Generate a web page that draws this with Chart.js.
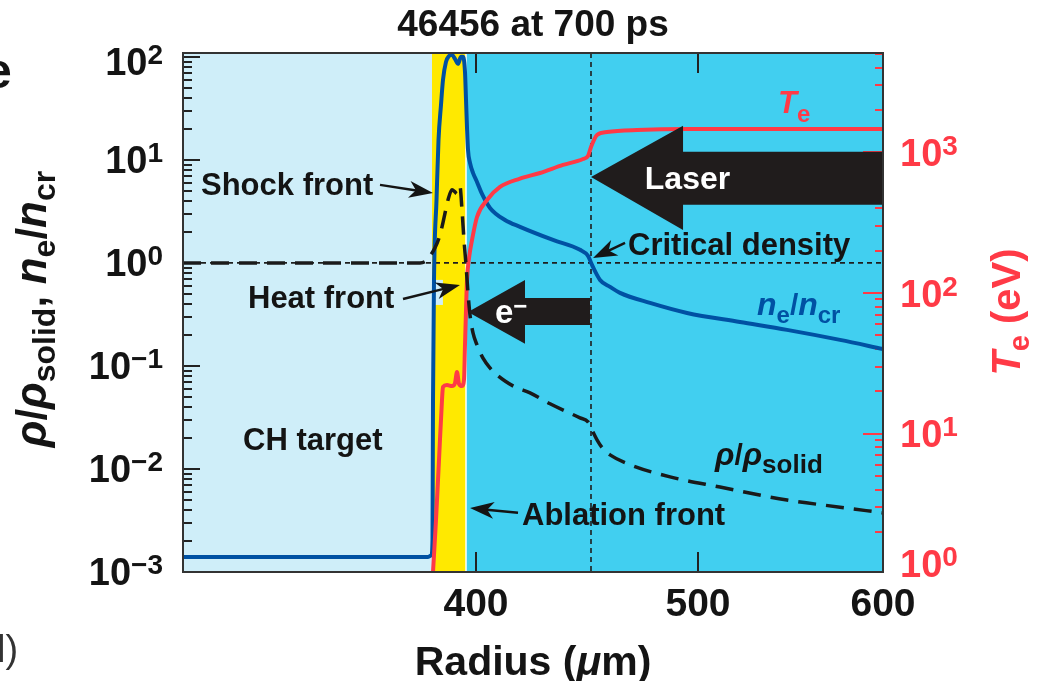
<!DOCTYPE html>
<html><head><meta charset="utf-8">
<script src="https://cdn.jsdelivr.net/npm/chart.js@4.4.1/dist/chart.umd.min.js"></script>
<style>html,body{margin:0;padding:0;background:#fff;overflow:hidden}#wrap{width:1040px;height:681px;position:relative}</style>
</head><body><div id="wrap"><canvas id="c" width="1040" height="681"></canvas></div>
<script>
// ---------------- data ----------------
const neRadius = [268, 378.38, 379.95, 380.40, 380.63, 381.08, 382.21, 383.11, 384.23, 385.13, 386.48, 387.84, 389.19, 390.54, 391.89, 393.24, 394.14, 395.04, 395.50, 395.95, 396.40, 397.30, 398.65, 400.45, 402.70, 406.31, 413.06, 419.82, 434.69, 446.85, 450.46, 452.26, 455.86, 460.37, 464.87, 478.39, 495.06, 522.70, 548.11, 576.76, 600];
const neValues = [0.0014, 0.0014, 0.00146, 0.00205, 0.0468, 0.684, 4.09, 15.6, 34.2, 59.8, 89.4, 102, 104.6, 95.6, 85.5, 100, 100, 71.5, 38.3, 20.5, 12.5, 9.35, 7.48, 6.11, 4.67, 3.42, 2.61, 2.24, 1.67, 1.34, 1.17, 0.956, 0.684, 0.585, 0.512, 0.409, 0.327, 0.267, 0.224, 0.179, 0.146];

const teRadius = [380.63, 381.98, 383.33, 384.68, 385.13, 386.93, 389.19, 390.54, 391.44, 392.34, 393.69, 394.59, 395.04, 395.50, 395.95, 396.85, 398.20, 400.45, 404.96, 410.81, 419.82, 428.83, 439.19, 448.20, 450.46, 451.81, 454.51, 459.02, 472.53, 495.06, 600];
const teValues = [1.04, 2.44, 6.5, 17.4, 21.5, 22.2, 21.8, 22.9, 27.4, 22.6, 21.8, 24.1, 42.7, 75.7, 124, 177, 238, 347, 458, 567, 650, 713, 813, 896, 942, 1091, 1328, 1393, 1440, 1465, 1465];

const rhoRadius = [268, 374.77, 377.47, 379.28, 381.53, 383.78, 385.58, 387.39, 389.19, 390.54, 391.44, 392.34, 392.79, 393.69, 394.59, 395.50, 396.40, 397.30, 398.65, 400.45, 403.15, 406.31, 409.46, 413.06, 417.57, 424.33, 433.34, 446.85, 450.46, 452.26, 454.51, 457.21, 460.37, 469.38, 487.40, 511.89, 548.11, 576.76, 600];
const rhoValues = [1.0, 1.0, 1.046, 1.17, 1.40, 1.87, 2.73, 4.09, 5.12, 4.89, 4.68, 5.34, 5.47, 3.27, 1.67, 0.956, 0.512, 0.313, 0.209, 0.160, 0.119, 0.0956, 0.0818, 0.0715, 0.0625, 0.0547, 0.0429, 0.0313, 0.0286, 0.0239, 0.0192, 0.0157, 0.0137, 0.0110, 0.00838, 0.00667, 0.00499, 0.00426, 0.00375];

const xTickValues = [400, 500, 600];
const xTickLabels = ['400', '500', '600'];
const leftTickValues = [1e-3, 1e-2, 1e-1, 1, 10, 100];
const leftTickExponents = ['\u22123', '\u22122', '\u22121', '0', '1', '2'];
const rightTickValues = [1, 10, 100, 1000];
const rightTickExponents = ['0', '1', '2', '3'];

const targetEdge = 380.18;     // CH target / shocked region boundary
const ablationFront = 395.5;   // ablation front
const criticalRadius = 451.8;  // critical density radius
const criticalDensity = 1;

// ---------------- styles ----------------
const FAM = '"Liberation Sans", Arial, Helvetica, sans-serif';
const f = (size, style) => `${style || 'normal'} bold ${size}px ${FAM}`;
const BLUE = '#0051a3', RED = '#ff3a46', INK = '#141414';
const LIGHT = '#cfeef9', YELLOW = '#ffe900', CYAN = '#41cff0', ARROW = '#201c1c';

// piecewise-linear radius axis (the reference's 500–600 span is compressed)
const xBreaks = [268, 400, 500, 600];
const xBreakFractions = [0, 293 / 700, 515 / 700, 1];
function toFrac(v) {
  let i = 0; while (i < xBreaks.length - 2 && v > xBreaks[i + 1]) i++;
  return xBreakFractions[i] + (v - xBreaks[i]) * (xBreakFractions[i + 1] - xBreakFractions[i]) / (xBreaks[i + 1] - xBreaks[i]);
}
function fromFrac(d) {
  let i = 0; while (i < xBreakFractions.length - 2 && d > xBreakFractions[i + 1]) i++;
  return xBreaks[i] + (d - xBreakFractions[i]) * (xBreaks[i + 1] - xBreaks[i]) / (xBreakFractions[i + 1] - xBreakFractions[i]);
}
class PiecewiseScale extends Chart.LinearScale {
  getPixelForValue(value) { return value === null ? NaN : this.getPixelForDecimal(toFrac(value)); }
  getValueForPixel(pixel) { return fromFrac(this.getDecimalForPixel(pixel)); }
}
PiecewiseScale.id = 'piecewise';
Chart.register(PiecewiseScale);

// ---------------- helpers ----------------
function drawRich(ctx, x, y, segs, align, color) {
  let w = 0;
  for (const s of segs) { ctx.font = s.f; w += ctx.measureText(s.t).width; }
  let cx = align === 'center' ? x - w / 2 : align === 'right' ? x - w : x;
  ctx.textAlign = 'left'; ctx.textBaseline = 'alphabetic';
  for (const s of segs) {
    ctx.font = s.f; ctx.fillStyle = s.c || color;
    ctx.fillText(s.t, cx, y + (s.dy || 0));
    cx += ctx.measureText(s.t).width;
  }
}
function thinArrow(ctx, x1, y1, x2, y2) {
  const ang = Math.atan2(y2 - y1, x2 - x1), L = 24, W = 8.5;
  const c = Math.cos(ang), s = Math.sin(ang);
  const bx = x2 - L * c, by = y2 - L * s;
  ctx.strokeStyle = INK; ctx.fillStyle = INK; ctx.lineWidth = 2.5; ctx.setLineDash([]);
  ctx.beginPath(); ctx.moveTo(x1, y1); ctx.lineTo(x2 - 0.7 * L * c, y2 - 0.7 * L * s); ctx.stroke();
  ctx.beginPath(); ctx.moveTo(x2, y2);
  ctx.lineTo(bx - W * s, by + W * c);
  ctx.lineTo(x2 - 0.72 * L * c, y2 - 0.72 * L * s);
  ctx.lineTo(bx + W * s, by - W * c);
  ctx.closePath(); ctx.fill();
}
function bigArrow(ctx, tx, ty, bx, hTop, hBot, tTop, tBot, ex) {
  ctx.fillStyle = ARROW; ctx.beginPath();
  ctx.moveTo(tx, ty); ctx.lineTo(bx, hTop); ctx.lineTo(bx, tTop); ctx.lineTo(ex, tTop);
  ctx.lineTo(ex, tBot); ctx.lineTo(bx, tBot); ctx.lineTo(bx, hBot); ctx.closePath(); ctx.fill();
}
function logTicks(min, max) {
  const out = [];
  for (let d = -4; d <= 4; d++) for (let m = 1; m <= 9; m++) {
    const v = m * Math.pow(10, d);
    if (v >= min * 0.999 && v <= max * 1.001) out.push({ v, major: m === 1 });
  }
  return out;
}

const figure = {
  id: 'figure',
  beforeDatasetsDraw(chart) {
    const ctx = chart.ctx, a = chart.chartArea;
    const xs = chart.scales.x, yl = chart.scales.y, yr = chart.scales.y2;
    const X = v => xs.getPixelForValue(v), YL = v => yl.getPixelForValue(v), YR = v => yr.getPixelForValue(v);
    const h = a.bottom - a.top;
    ctx.save();
    ctx.fillStyle = LIGHT; ctx.fillRect(a.left, a.top, X(targetEdge) - a.left, h);
    ctx.fillStyle = YELLOW; ctx.fillRect(X(targetEdge), a.top, X(ablationFront) - X(targetEdge), h);
    ctx.fillStyle = CYAN; ctx.fillRect(X(ablationFront), a.top, a.right - X(ablationFront), h);
    ctx.fillStyle = '#ffffff'; ctx.fillRect(X(ablationFront) - 0.75, a.top, 1.5, h);
    // light label box behind "Heat front"
    ctx.fillStyle = LIGHT; ctx.fillRect(X(targetEdge), YL(0.684), X(385.1) - X(targetEdge), YL(0.391) - YL(0.684));
    // dotted reference lines
    ctx.strokeStyle = '#1e1e1e'; ctx.lineWidth = 1.6; ctx.setLineDash([5, 4]);
    ctx.beginPath(); ctx.moveTo(a.left, YL(criticalDensity)); ctx.lineTo(a.right, YL(criticalDensity)); ctx.stroke();
    ctx.beginPath(); ctx.moveTo(X(criticalRadius), a.top); ctx.lineTo(X(criticalRadius), a.bottom); ctx.stroke();
    ctx.setLineDash([]);
    // left (black) ticks
    ctx.lineWidth = 2; ctx.strokeStyle = '#222';
    for (const t of logTicks(yl.min, yl.max)) {
      const y = Math.round(YL(t.v)); const L = t.major ? 17 : 9;
      ctx.beginPath(); ctx.moveTo(a.left, y); ctx.lineTo(a.left + L, y); ctx.stroke();
    }
    // right (red) ticks
    ctx.strokeStyle = RED;
    for (const t of logTicks(yr.min, yr.max)) {
      const y = Math.round(YR(t.v)); const L = t.major ? 20 : 8;
      ctx.beginPath(); ctx.moveTo(a.right, y); ctx.lineTo(a.right - L, y); ctx.stroke();
    }
    // top/bottom ticks
    ctx.strokeStyle = '#222';
    for (const v of xTickValues) {
      const x = Math.round(X(v)); if (x >= a.right - 2) continue;
      ctx.beginPath(); ctx.moveTo(x, a.bottom); ctx.lineTo(x, a.bottom - 20); ctx.stroke();
      ctx.beginPath(); ctx.moveTo(x, a.top); ctx.lineTo(x, a.top + 20); ctx.stroke();
    }
    ctx.restore();
  },
  afterDatasetsDraw(chart) {
    const ctx = chart.ctx, a = chart.chartArea;
    const xs = chart.scales.x, yl = chart.scales.y, yr = chart.scales.y2;
    const X = v => xs.getPixelForValue(v), YL = v => yl.getPixelForValue(v), YR = v => yr.getPixelForValue(v);
    ctx.save();
    ctx.beginPath(); ctx.rect(a.left, a.top, a.right - a.left, a.bottom - a.top); ctx.clip();
    // big arrows
    bigArrow(ctx, X(451.81), YL(6.84), X(493.26), YL(21.4), YL(2.09), YL(11.97), YL(3.66), a.right + 2);
    bigArrow(ctx, X(396.4), YL(0.334), X(422.07), YL(0.684), YL(0.164), YL(0.457), YL(0.25), X(451.36));
    // thin annotation arrows
    thinArrow(ctx, X(356.75), YL(5.72), X(380.63), YL(4.78));
    thinArrow(ctx, X(367.11), YL(0.447), X(392.79), YL(0.612));
    thinArrow(ctx, X(467.13), YL(1.564), X(452.71), YL(1.118));
    thinArrow(ctx, X(418.92), YL(0.00375), X(397.30), YL(0.00418));
    // annotation text
    const A = f(31);
    drawRich(ctx, X(276.11), YL(4.57), [{ t: 'Shock front', f: A }], 'left', INK);
    drawRich(ctx, X(297.28), YL(0.366), [{ t: 'Heat front', f: A }], 'left', INK);
    drawRich(ctx, X(468.48), YL(1.196), [{ t: 'Critical density', f: A }], 'left', INK);
    drawRich(ctx, X(295.03), YL(0.01528), [{ t: 'CH target', f: A }], 'left', INK);
    drawRich(ctx, X(420.72), YL(0.00286), [{ t: 'Ablation front', f: A }], 'left', INK);
    drawRich(ctx, X(495.28), YL(5.23), [{ t: 'Laser', f: f(32) }], 'center', '#ffffff');
    drawRich(ctx, X(408.56), YL(0.2615), [{ t: 'e', f: f(33) }, { t: '\u2212', f: f(24), dy: -9 }], 'left', '#ffffff');
    drawRich(ctx, X(543.24), YR(1900), [{ t: 'T', f: f(31, 'italic') }, { t: 'e', f: f(24), dy: 9 }], 'left', RED);
    drawRich(ctx, X(531.89), YL(0.313), [{ t: 'n', f: f(32, 'italic') }, { t: 'e', f: f(24), dy: 8 }, { t: '/', f: f(30) }, { t: 'n', f: f(32, 'italic') }, { t: 'cr', f: f(24), dy: 8 }], 'left', BLUE);
    drawRich(ctx, X(509.19), YL(0.01094), [{ t: '\u03c1', f: f(32, 'italic') }, { t: '/', f: f(30) }, { t: '\u03c1', f: f(32, 'italic') }, { t: 'solid', f: f(26), dy: 8 }], 'left', INK);
    ctx.restore();

    ctx.save();
    // frame
    ctx.strokeStyle = '#333'; ctx.lineWidth = 2; ctx.setLineDash([]);
    ctx.strokeRect(a.left, a.top, a.right - a.left, a.bottom - a.top);
    // left tick labels
    leftTickValues.forEach((v, i) => {
      let yc = YL(v); yc = Math.min(Math.max(yc, a.top + 8), a.bottom - 1);
      drawRich(ctx, a.left - 20, yc + 13.5, [{ t: '10', f: f(38) }, { t: leftTickExponents[i], f: f(28), dy: -11 }], 'right', INK);
    });
    // right tick labels
    rightTickValues.forEach((v, i) => {
      let yc = YR(v); yc = Math.min(yc, a.bottom - 9);
      drawRich(ctx, a.right + 17, yc + 13.5, [{ t: '10', f: f(38) }, { t: rightTickExponents[i], f: f(28), dy: -11 }], 'left', RED);
    });
    // x tick labels
    xTickValues.forEach((v, i) => {
      drawRich(ctx, X(v), a.bottom + 44, [{ t: xTickLabels[i], f: f(39) }], 'center', INK);
    });
    // title
    drawRich(ctx, (a.left + a.right) / 2, 36, [{ t: '46456 at 700 ps', f: f(37) }], 'center', INK);
    // x axis title
    drawRich(ctx, (a.left + a.right) / 2, 675, [{ t: 'Radius (', f: f(41) }, { t: '\u03bc', f: f(41, 'italic') }, { t: 'm)', f: f(41) }], 'center', INK);
    // left axis title
    ctx.save(); ctx.translate(46, 309); ctx.rotate(-Math.PI / 2);
    drawRich(ctx, 0, 0, [
      { t: '\u03c1', f: f(44, 'italic') }, { t: '/', f: f(42) }, { t: '\u03c1', f: f(44, 'italic') },
      { t: 'solid', f: f(32), dy: 9 }, { t: ', ', f: f(42) },
      { t: 'n', f: f(44, 'italic') }, { t: 'e', f: f(32), dy: 9 }, { t: '/', f: f(42) },
      { t: 'n', f: f(44, 'italic') }, { t: 'cr', f: f(32), dy: 9 }], 'center', INK);
    ctx.restore();
    // right axis title
    ctx.save(); ctx.translate(1020, 312); ctx.rotate(-Math.PI / 2);
    drawRich(ctx, 0, 0, [{ t: 'T', f: f(40, 'italic') }, { t: 'e', f: f(29), dy: 9 }, { t: ' (eV)', f: f(40) }], 'center', RED);
    ctx.restore();
    // cropped fragments of neighbouring text at the page edge
    drawRich(ctx, -16, 88, [{ t: 'e', f: f(50) }], 'left', INK);
    ctx.font = `normal 400 38px ${FAM}`; ctx.fillStyle = '#333'; ctx.textAlign = 'left';
    ctx.fillText('l)', -3, 662);
    ctx.restore();
  }
};

const toPoints = (xsArr, ysArr) => xsArr.map((x, i) => ({ x, y: ysArr[i] }));

new Chart(document.getElementById('c'), {
  type: 'line',
  data: {
    datasets: [
      { label: '\u03c1/\u03c1solid', data: toPoints(rhoRadius, rhoValues), yAxisID: 'y', borderColor: '#1a1a1a', borderWidth: 3.5, borderDash: [18, 10], pointRadius: 0, cubicInterpolationMode: 'monotone', order: 0 },
      { label: 'Te', data: toPoints(teRadius, teValues), yAxisID: 'y2', borderColor: RED, borderWidth: 4, pointRadius: 0, cubicInterpolationMode: 'monotone', borderJoinStyle: 'round', order: 1 },
      { label: 'ne/ncr', data: toPoints(neRadius, neValues), yAxisID: 'y', borderColor: BLUE, borderWidth: 4, pointRadius: 0, cubicInterpolationMode: 'monotone', borderJoinStyle: 'round', order: 2 }
    ]
  },
  options: {
    responsive: false, animation: false, events: [],
    layout: { padding: { left: 183, right: 157, top: 53, bottom: 109 } },
    plugins: { legend: { display: false }, tooltip: { enabled: false }, title: { display: false } },
    scales: {
      x: { type: 'piecewise', position: 'bottom', min: 268, max: 600, display: false },
      y: { type: 'logarithmic', position: 'left', min: 1e-3, max: 109, display: false },
      y2: { type: 'logarithmic', position: 'right', min: 1.04, max: 5080, display: false }
    }
  },
  plugins: [figure]
});
</script>
</body></html>
